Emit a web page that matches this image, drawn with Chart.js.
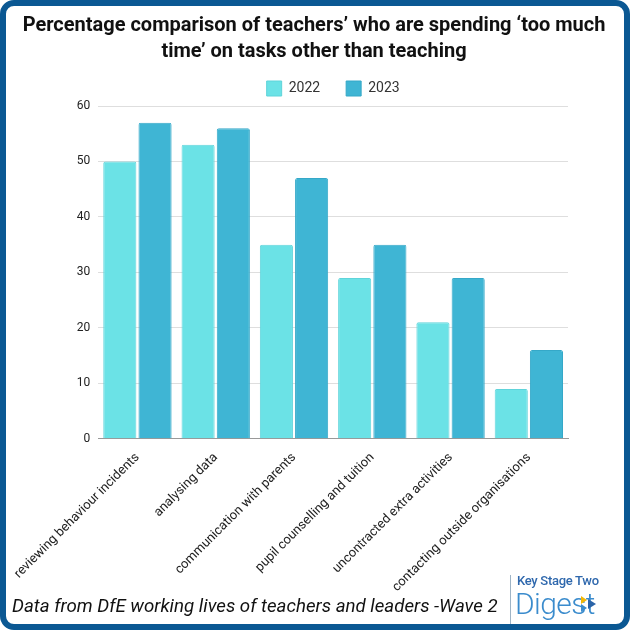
<!DOCTYPE html>
<html>
<head>
<meta charset="utf-8">
<script src="https://cdn.jsdelivr.net/npm/chart.js@4"></script>
<style>
  html, body { margin: 0; padding: 0; background: #fff; }
  .frame {
    position: relative;
    width: 618px; height: 618px;
    border: 6px solid #0b5893;
    border-radius: 14px;
    background: #fff;
    overflow: hidden;
  }
  #chart { position: absolute; left: 0; top: 0; }
  .footnote {
    position: absolute; left: 6px; top: 589px;
    font: italic 18.7px Roboto, sans-serif; color: #111;
  }
  .logo-line {
    position: absolute; left: 504px; top: 569px; width: 1px; height: 50px;
    background: #9fb4c6;
  }
  .logo-top {
    position: absolute; left: 511px; top: 567px;
    font: 500 13px Roboto, sans-serif; color: #2f68ad; letter-spacing: -0.3px;
  }
  .logo-main {
    position: absolute; left: 509px; top: 580px;
    font: 300 30px Roboto, sans-serif; color: #3b8ccd; letter-spacing: -0.6px;
  }
  .tri { position: absolute; width: 0; height: 0; border-top: 4px solid transparent; border-bottom: 4px solid transparent; }
</style>
</head>
<body>
<div class="frame">
  <canvas id="chart" width="618" height="592"></canvas>
  <div class="footnote">Data from DfE working lives of teachers and leaders -Wave 2</div>
  <div class="logo-line"></div>
  <div class="logo-top">Key Stage Two</div>
  <div class="logo-main">Digest</div>
  <div class="tri" style="left:575px;top:590px;border-left:6px solid #f2b705;"></div>
  <div class="tri" style="left:575px;top:598px;border-left:6px solid #3b8ccd;"></div>
  <div class="tri" style="left:582px;top:593px;border-left:8px solid #2b64a8;border-top-width:5px;border-bottom-width:5px;"></div>
</div>
<script>
const titleLines = ['Percentage comparison of teachers’ who are spending ‘too much', 'time’ on tasks other than teaching'];
const categories = [
  'reviewing behaviour incidents',
  'analysing data',
  'communication with parents',
  'pupil counselling and tuition',
  'uncontracted extra activities',
  'contacting outside organisations'
];
const values2022 = [50, 53, 35, 29, 21, 9];
const values2023 = [57, 56, 47, 35, 29, 16];
const yTicks = [0, 10, 20, 30, 40, 50, 60];

const chart = new Chart(document.getElementById('chart'), {
  type: 'bar',
  data: {
    labels: categories,
    datasets: [
      {
        label: '2022',
        data: values2022,
        backgroundColor: '#6be2e6',
        borderColor: '#5fd4da',
        borderWidth: 1,
        borderRadius: 2,
        borderSkipped: 'bottom',
        barPercentage: 0.94,
        categoryPercentage: 0.9
      },
      {
        label: '2023',
        data: values2023,
        backgroundColor: '#3fb5d4',
        borderColor: '#35a8c8',
        borderWidth: 1,
        borderRadius: 2,
        borderSkipped: 'bottom',
        barPercentage: 0.94,
        categoryPercentage: 0.9
      }
    ]
  },
  options: {
    responsive: false,
    animation: false,
    layout: { padding: { left: 0, right: 2, top: 2, bottom: 0 } },
    plugins: {
      title: {
        display: true,
        text: titleLines,
        color: '#111',
        font: { family: 'Roboto', size: 20, weight: 'bold', lineHeight: 1.3 },
        padding: { top: 5, bottom: -10 }
      },
      legend: {
        display: true,
        fullSize: false,
        labels: {
          color: '#333',
          font: { family: 'Roboto', size: 14 },
          boxWidth: 15,
          boxHeight: 15,
          padding: 26
        }
      },
      tooltip: { enabled: false }
    },
    scales: {
      x: {
        grid: { display: false },
        border: { color: '#999' },
        ticks: {
          color: '#222',
          font: { family: 'Roboto', size: 13 },
          minRotation: 45,
          maxRotation: 45,
          autoSkip: false
        }
      },
      y: {
        min: 0,
        max: 60,
        afterBuildTicks: (axis) => { axis.ticks = yTicks.map(v => ({ value: v })); },
        afterFit: (axis) => { axis.width = 90; },
        grid: { color: '#dedede', drawTicks: false },
        border: { display: false },
        ticks: {
          color: '#222',
          font: { family: 'Roboto', size: 12 },
          padding: 8
        }
      },
      // empty right-hand gutter so the plot stops short of the frame
      gutter: {
        position: 'right',
        display: true,
        grid: { display: false, drawTicks: false },
        border: { display: false },
        ticks: { display: false },
        afterFit: (axis) => { axis.width = 54; }
      }
    }
  }
});
</script>
</body>
</html>
